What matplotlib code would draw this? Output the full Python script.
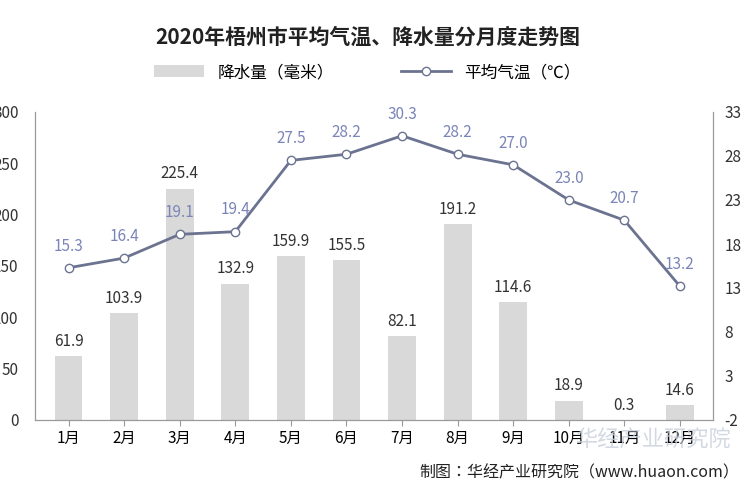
import matplotlib
matplotlib.use("Agg")
import matplotlib.pyplot as plt
from matplotlib import font_manager as fm
import glob

months = ["1月","2月","3月","4月","5月","6月","7月","8月","9月","10月","11月","12月"]
rain = [61.9,103.9,225.4,132.9,159.9,155.5,82.1,191.2,114.6,18.9,0.3,14.6]
temp = [15.3,16.4,19.1,19.4,27.5,28.2,30.3,28.2,27.0,23.0,20.7,13.2]
left_ticks = [0,50,100,150,200,250,300]
right_ticks = [-2,3,8,13,18,23,28,33]

cands = [f for f in fm.findSystemFonts() if "CJK" in f or "cjk" in f.lower()]
for f in cands:
    try:
        fm.fontManager.addfont(f)
    except Exception:
        pass
names = sorted({fm.FontProperties(fname=f).get_name() for f in cands})
cjk = None
for n in names:
    if "SC" in n:
        cjk = n; break
if cjk is None and names:
    cjk = names[0]
plt.rcParams["font.family"] = [cjk or "Noto Sans CJK SC", "DejaVu Sans"]

fig = plt.figure(figsize=(7.5,5), dpi=100)
ax = fig.add_axes([0.047, 0.16, 0.904, 0.616])
x = list(range(len(months)))
ax.bar(x, rain, width=0.5, color="#d9d9d9", label="降水量（毫米）")
for i, v in enumerate(rain):
    ax.text(i, v+6, f"{v:.1f}", ha="center", va="bottom", fontsize=11, color="#333333")
ax.set_ylim(0,300)
ax.set_yticks(left_ticks)
ax.set_yticklabels([str(t) for t in left_ticks], fontsize=11, color="#333333")
ax.set_xlim(-0.6, 11.6)
ax.set_xticks(x)
ax.set_xticklabels(months, fontsize=11)
ax.tick_params(axis="y", length=0, pad=12)
ax.tick_params(axis="x", length=4, color="#999999")
ax.spines["top"].set_visible(False)
for s in ["left","right","bottom"]:
    ax.spines[s].set_color("#999999")

ax2 = ax.twinx()
ax2.plot(x, temp, color="#6b7390", marker="o", markersize=6, markerfacecolor="white",
         markeredgecolor="#6b7390", linewidth=2, label="平均气温（℃）")
for i, v in enumerate(temp):
    ax2.text(i, v+1.5, f"{v:.1f}", ha="center", va="bottom", fontsize=11, color="#7b84b8")
ax2.set_ylim(-2,33)
ax2.set_yticks(right_ticks)
ax2.set_yticklabels([str(t) for t in right_ticks], fontsize=11, color="#333333")
ax2.tick_params(axis="y", length=0, pad=8)
ax2.spines["top"].set_visible(False)
for s in ["left","right","bottom"]:
    ax2.spines[s].set_color("#999999")

fig.text(0.49, 0.925, "2020年梧州市平均气温、降水量分月度走势图", ha="center", va="center",
         fontsize=15, fontweight="bold", color="#222222")
h1, l1 = ax.get_legend_handles_labels()
h2, l2 = ax2.get_legend_handles_labels()
fig.legend(h1+h2, l1+l2, loc="center", bbox_to_anchor=(0.49, 0.855), ncol=2, frameon=False,
           fontsize=12, columnspacing=4, handlelength=3)
fig.text(0.975, 0.122, "华经产业研究院", ha="right", va="center", fontsize=16, color="#c8d0dc", alpha=0.8)
fig.text(0.985, 0.055, "制图：华经产业研究院（www.huaon.com）", ha="right", va="center", fontsize=11.5, color="#222222")
fig.savefig("out.png", dpi=100)
